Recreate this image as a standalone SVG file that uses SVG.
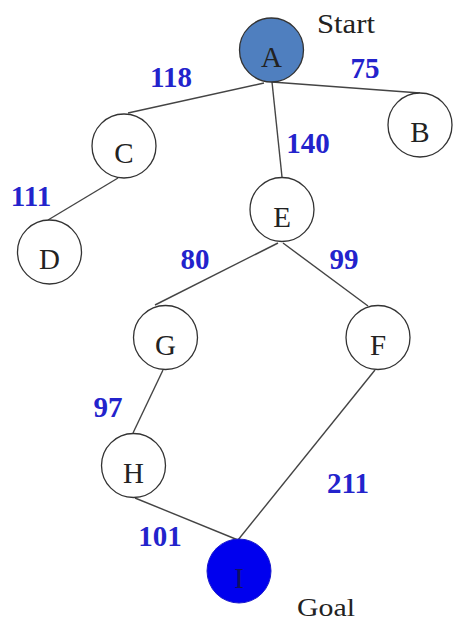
<svg xmlns="http://www.w3.org/2000/svg" width="453" height="624" viewBox="0 0 453 624">
<style>
.n{fill:#fff;stroke:#333;stroke-width:1.3}
.t{font-family:"Liberation Serif",serif;font-size:29px;fill:#222;text-anchor:middle}
.w{font-family:"Liberation Serif",serif;font-size:29px;font-weight:bold;fill:#2323cc;text-anchor:middle}
.e{stroke:#444;stroke-width:1.4;fill:none}
</style>
<rect width="453" height="624" fill="#fff"/>
<g id="connectors">
<line class="e" x1="264" y1="83" x2="128" y2="113"/>
<line class="e" x1="272" y1="82" x2="420" y2="93"/>
<line class="e" x1="272" y1="82" x2="282" y2="177"/>
<line class="e" x1="118" y1="178" x2="48" y2="220"/>
<line class="e" x1="278" y1="243" x2="155" y2="305"/>
<line class="e" x1="283" y1="243" x2="368" y2="306"/>
<line class="e" x1="163" y1="370" x2="133" y2="433"/>
<line class="e" x1="135" y1="498" x2="238" y2="540"/>
<line class="e" x1="375" y1="370" x2="238" y2="540"/>
</g>
<g id="labels">
<text class="w" x="171" y="87">118</text>
<text class="w" x="365" y="78">75</text>
<text class="w" x="308" y="153">140</text>
<text class="w" x="31" y="206">111</text>
<text class="w" x="195" y="269">80</text>
<text class="w" x="344" y="269">99</text>
<text class="w" x="108" y="417">97</text>
<text class="w" x="348" y="493">211</text>
<text class="w" x="160" y="546">101</text>
</g>
<g id="node-A"><circle cx="271.5" cy="50" r="32" fill="#4f7fbf" stroke="#333" stroke-width="1.3"/><text class="t" x="271.5" y="67">A</text></g>
<text id="start" x="317" y="33" font-family="Liberation Serif,serif" font-size="27" fill="#222" textLength="58" lengthAdjust="spacingAndGlyphs">Start</text>
<g id="node-B"><circle class="n" cx="420" cy="125" r="32"/><text class="t" x="420" y="142">B</text></g>
<g id="node-C"><circle class="n" cx="124" cy="146" r="32"/><text class="t" x="124" y="163">C</text></g>
<g id="node-D"><circle class="n" cx="49.5" cy="252" r="32"/><text class="t" x="49.5" y="269">D</text></g>
<g id="node-E"><circle class="n" cx="282" cy="209.5" r="32"/><text class="t" x="282" y="227">E</text></g>
<g id="node-G"><circle class="n" cx="165.5" cy="337.5" r="32"/><text class="t" x="165.5" y="355">G</text></g>
<g id="node-F"><circle class="n" cx="378" cy="337.5" r="32"/><text class="t" x="378" y="355">F</text></g>
<g id="node-H"><circle class="n" cx="133.5" cy="465.5" r="32"/><text class="t" x="133.5" y="483">H</text></g>
<g id="node-I"><circle cx="239" cy="571" r="32" fill="#0000ee" stroke="#1a1acc" stroke-width="1"/><text class="t" x="239" y="588" style="fill:#101060">I</text></g>
<text id="goal" x="297" y="616" font-family="Liberation Serif,serif" font-size="26" fill="#222" textLength="58" lengthAdjust="spacingAndGlyphs">Goal</text>
</svg>
